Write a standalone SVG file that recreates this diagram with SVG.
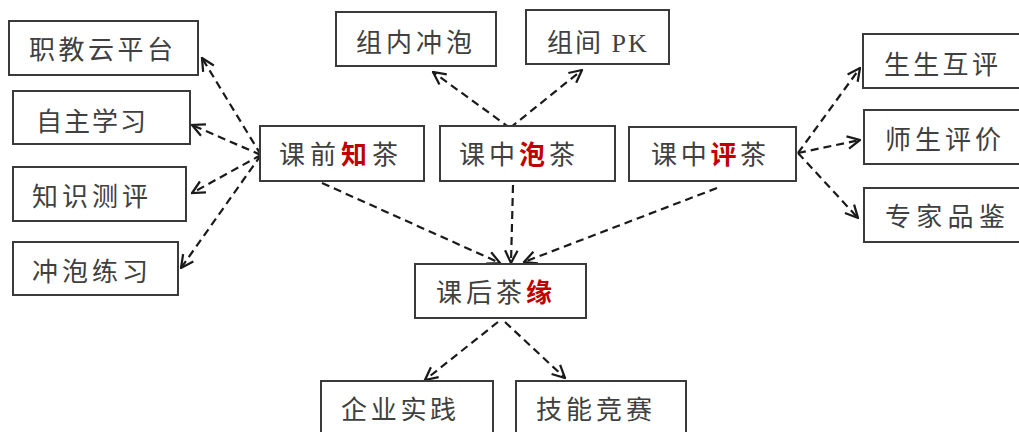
<svg xmlns="http://www.w3.org/2000/svg" width="1019" height="432" viewBox="0 0 1019 432">
<style>
.box{fill:#fff;stroke:#3a3a3a;stroke-width:2}
.t{font-family:"Liberation Serif","Noto Sans CJK SC",sans-serif;font-size:26px;fill:#404040;dominant-baseline:central;letter-spacing:4px}
.r{fill:#c00000;font-weight:bold}
.c{fill:none;stroke:#1a1a1a;stroke-width:2.2;stroke-dasharray:8 5;marker-end:url(#ah)}
</style>
<defs>
<marker id="ah" viewBox="0 0 12 12" refX="11" refY="6" markerWidth="15" markerHeight="15" markerUnits="userSpaceOnUse" orient="auto">
<path d="M1,1 L11,6 L1,11" fill="none" stroke="#1a1a1a" stroke-width="1.8"/>
</marker>
</defs>
<rect width="1019" height="432" fill="#fff"/>
<g id="connectors">
<path class="c" d="M261,155 L202,58"/>
<path class="c" d="M261,155 L192,125"/>
<path class="c" d="M261,155 L192,193"/>
<path class="c" d="M261,155 L181,268"/>
<path class="c" d="M510,128 L433,72"/>
<path class="c" d="M510,128 L582,70"/>
<path class="c" d="M798,153 L860,68"/>
<path class="c" d="M798,153 L860,140"/>
<path class="c" d="M798,153 L858,218"/>
<path class="c" d="M322,183 L500,263"/>
<path class="c" d="M513,185 L511,263"/>
<path class="c" d="M717,188 L524,262"/>
<path class="c" d="M498,322 L425,380"/>
<path class="c" d="M505,322 L565,378"/>
</g>
<g id="n1"><rect class="box" x="9" y="21" width="189" height="54"/><text class="t" x="29" y="50" style="letter-spacing:3.5px">职教云平台</text></g>
<g id="n2"><rect class="box" x="13" y="91" width="177" height="53"/><text class="t" x="36" y="122" style="letter-spacing:2px">自主学习</text></g>
<g id="n3"><rect class="box" x="13" y="167" width="173" height="54"/><text class="t" x="32" y="197">知识测评</text></g>
<g id="n4"><rect class="box" x="13" y="242" width="165" height="53"/><text class="t" x="32" y="272">冲泡练习</text></g>
<g id="n5"><rect class="box" x="336" y="12" width="160" height="54"/><text class="t" x="356" y="43">组内冲泡</text></g>
<g id="n6"><rect class="box" x="526" y="10" width="143" height="54"/><text class="t" x="547" y="43" style="letter-spacing:2px">组间 PK</text></g>
<g id="n7"><rect class="box" x="260" y="126" width="164" height="55"/><text class="t" x="279" y="155" style="letter-spacing:5px">课前<tspan class="r">知</tspan>茶</text></g>
<g id="n8"><rect class="box" x="440" y="126" width="175" height="55"/><text class="t" x="459" y="155">课中<tspan class="r">泡</tspan>茶</text></g>
<g id="n9"><rect class="box" x="629" y="127" width="167" height="54"/><text class="t" x="651" y="155" style="letter-spacing:3.7px">课中<tspan class="r">评</tspan>茶</text></g>
<g id="n10"><rect class="box" x="863" y="34" width="165" height="54"/><text class="t" x="884" y="65" style="letter-spacing:3.3px">生生互评</text></g>
<g id="n11"><rect class="box" x="864" y="110" width="165" height="54"/><text class="t" x="885" y="140">师生评价</text></g>
<g id="n12"><rect class="box" x="864" y="188" width="165" height="54"/><text class="t" x="885" y="217" style="letter-spacing:5.3px">专家品鉴</text></g>
<g id="n13"><rect class="box" x="415" y="264" width="171" height="54"/><text class="t" x="436" y="293">课后茶<tspan class="r">缘</tspan></text></g>
<g id="n14"><rect class="box" x="321" y="381" width="172" height="60"/><text class="t" x="341" y="410" style="letter-spacing:3.7px">企业实践</text></g>
<g id="n15"><rect class="box" x="516" y="381" width="170" height="60"/><text class="t" x="536" y="410">技能竞赛</text></g>
</svg>
